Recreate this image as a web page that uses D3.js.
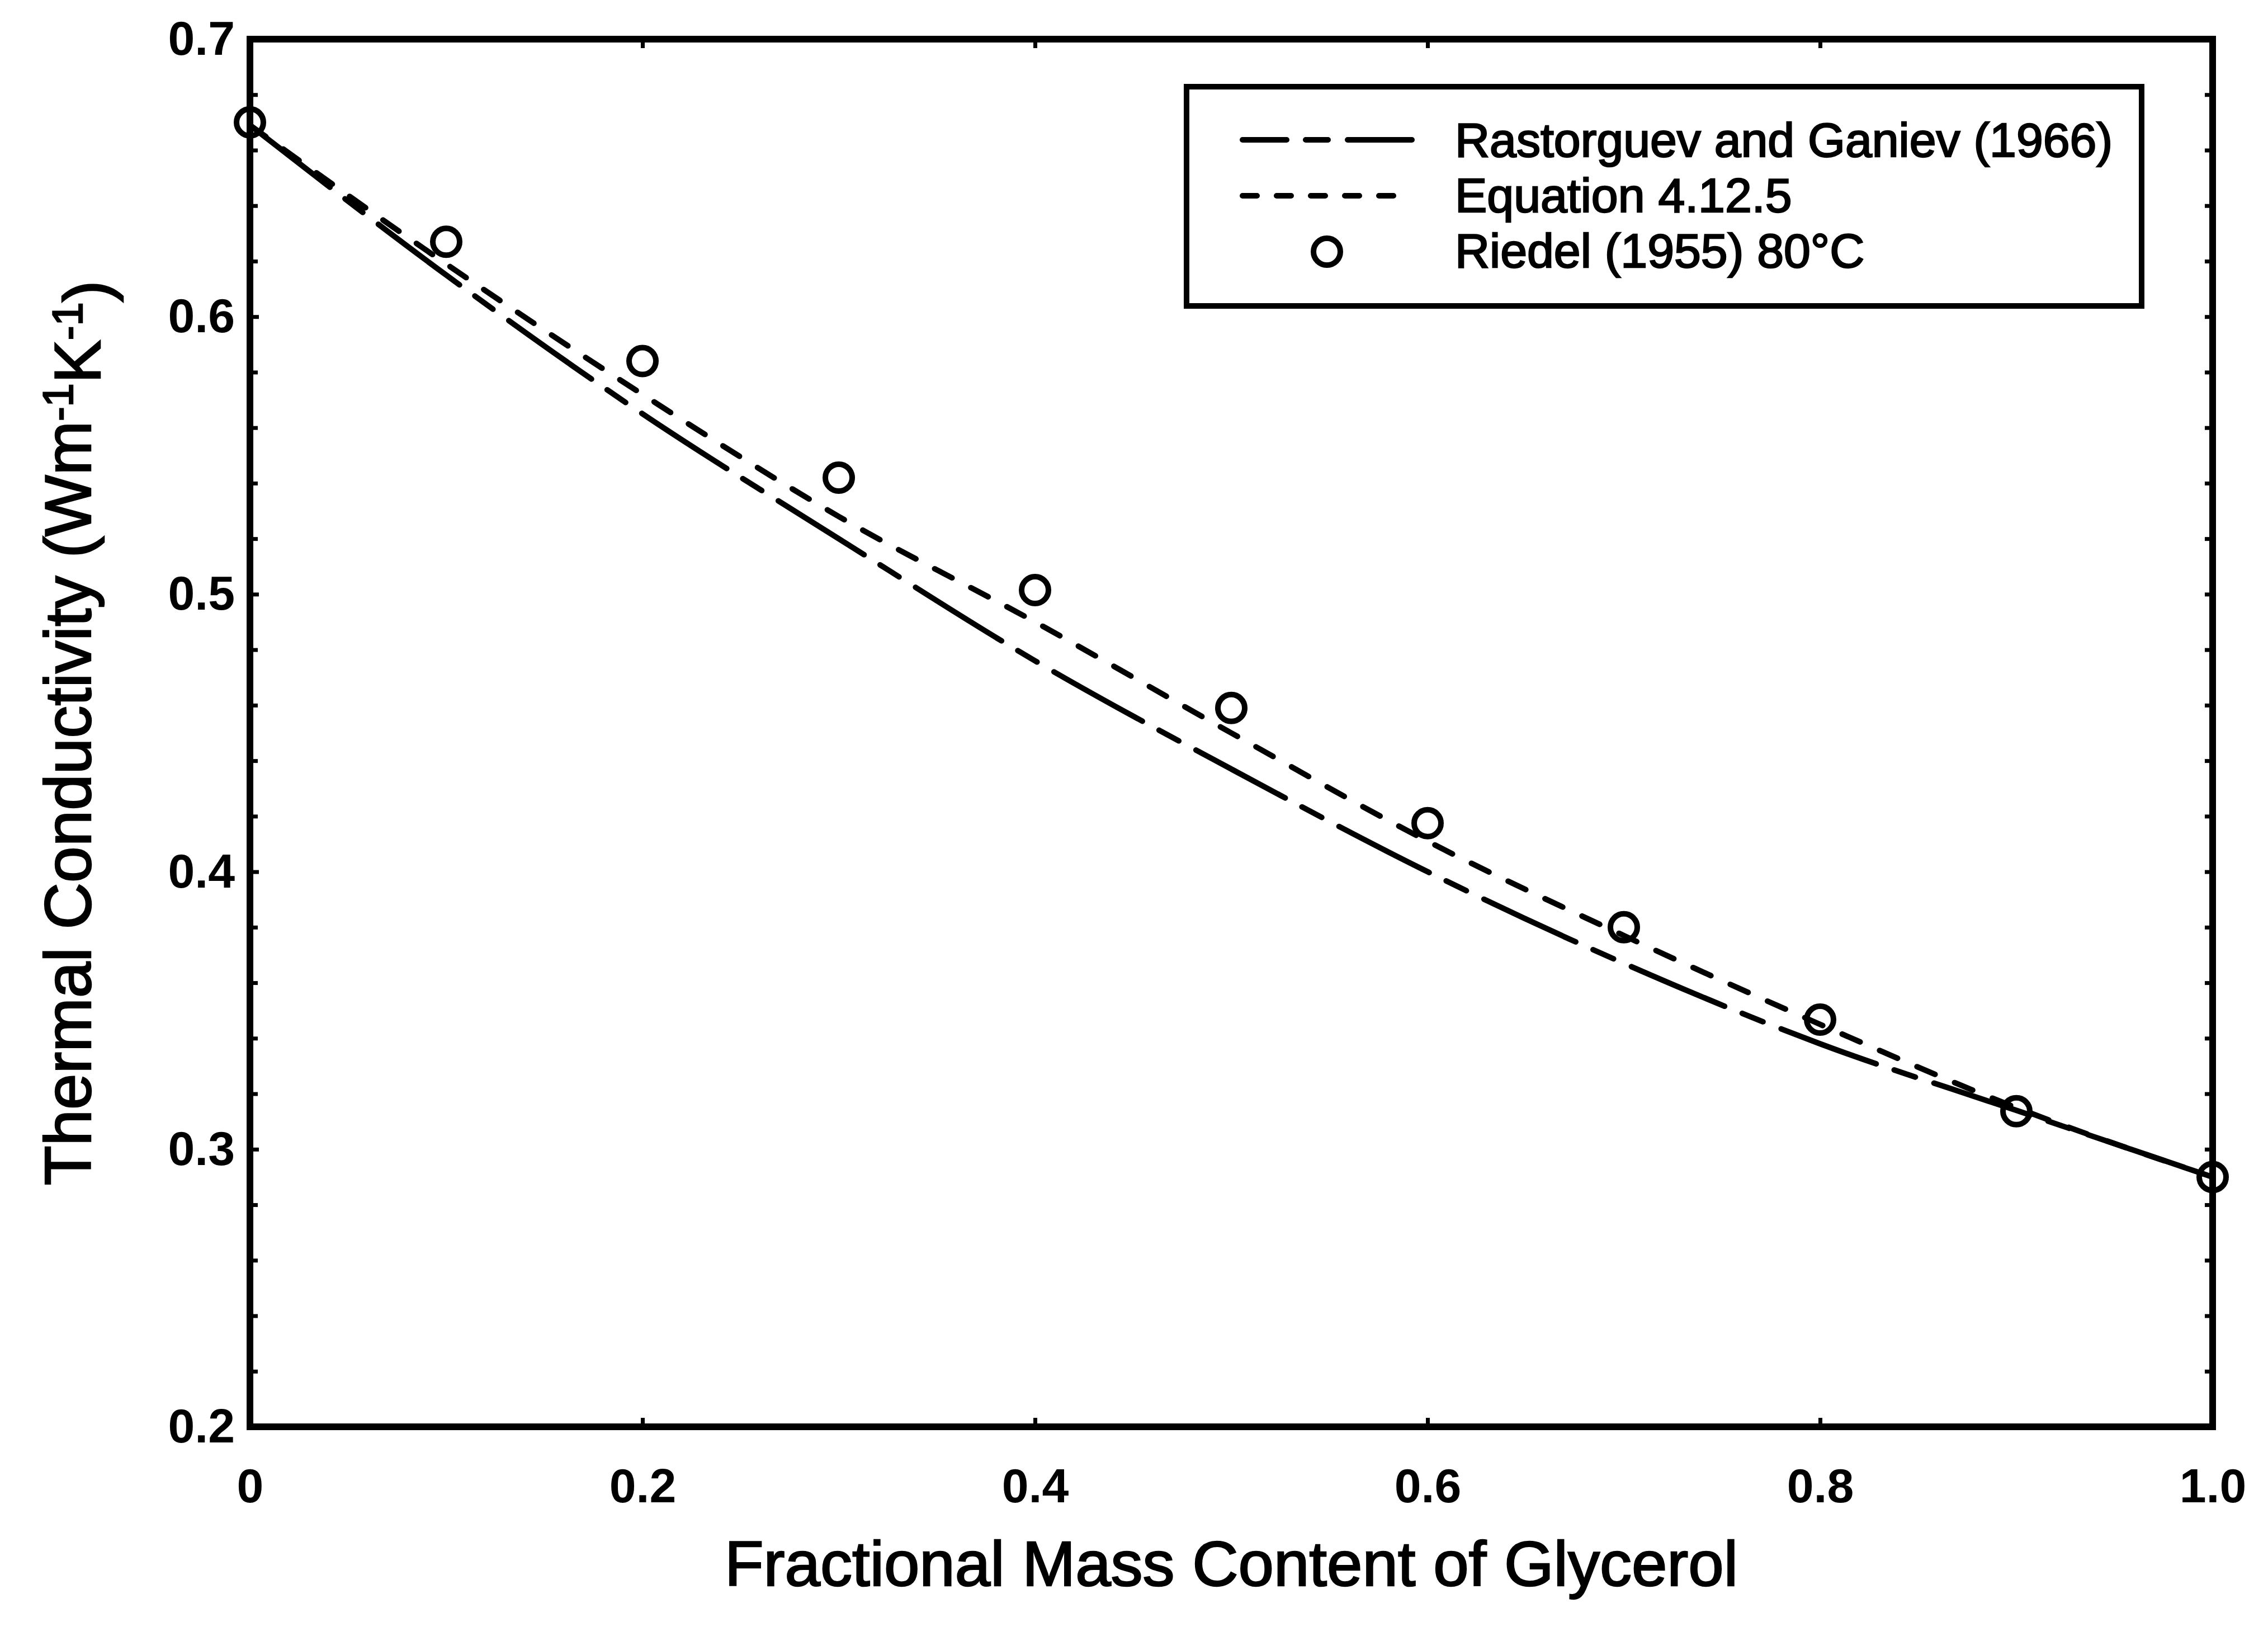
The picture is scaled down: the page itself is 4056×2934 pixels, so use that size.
<!DOCTYPE html>
<html>
<head>
<meta charset="utf-8">
<script src="https://cdn.jsdelivr.net/npm/d3@7"></script>
<style>
  body { margin: 0; background: #fff; }
  svg { display: block; }
  text { font-family: "Liberation Sans", Arial, Helvetica, sans-serif; fill: #000; }
  .heavy { stroke: #000; stroke-width: 2.5px; }
</style>
</head>
<body>
<figure id="chart" style="margin:0"></figure>
<script>
// values
const massFraction = [0, 0.1, 0.2, 0.3, 0.4, 0.5, 0.6, 0.7, 0.8, 0.9, 1.0];
const rastorguev = [0.669, 0.615, 0.565, 0.520, 0.476, 0.437, 0.400, 0.367, 0.338, 0.314, 0.290];
const equation4125 = [0.669, 0.619, 0.572, 0.528, 0.490, 0.450, 0.411, 0.377, 0.345, 0.315, 0.290];
const riedel = [0.670, 0.627, 0.584, 0.542, 0.5015, 0.459, 0.4175, 0.380, 0.3467, 0.3137, 0.290];

const xTicks = [0, 0.2, 0.4, 0.6, 0.8, 1.0];
const xTickLabels = ["0", "0.2", "0.4", "0.6", "0.8", "1.0"];
const yTicks = [0.2, 0.3, 0.4, 0.5, 0.6, 0.7];
const yTickLabels = ["0.2", "0.3", "0.4", "0.5", "0.6", "0.7"];
const yMinorTicks = [0.22, 0.24, 0.26, 0.28, 0.32, 0.34, 0.36, 0.38, 0.42, 0.44, 0.46, 0.48,
                     0.52, 0.54, 0.56, 0.58, 0.62, 0.64, 0.66, 0.68];

const seriesNames = ["Rastorguev and Ganiev (1966)", "Equation 4.12.5", "Riedel (1955) 80°C"];

const W = 4056, H = 2934;
const margin = { left: 447, top: 70, right: 99, bottom: 383 };
const width = W - margin.left - margin.right;
const height = H - margin.top - margin.bottom;

const rastDash = "181,34,40,35";
const eqDash = "35,38";

const svg = d3.select("figure#chart")
  .append("svg")
  .attr("width", W)
  .attr("height", H);

const g = svg.append("g")
  .attr("transform", "translate(" + margin.left + "," + margin.top + ")");

const x = d3.scaleLinear().domain([0, 1]).range([0, width]);
const y = d3.scaleLinear().domain([0.2, 0.7]).range([height, 0]);

// ticks (all pointing inward)
function styleAxis(sel) {
  sel.select(".domain").remove();
  sel.selectAll(".tick line").attr("stroke", "#000").attr("stroke-width", 7);
  sel.selectAll(".tick text")
    .style("font-size", "86px")
    .style("font-weight", "bold")
    .style("font-family", "'Liberation Sans', Arial, sans-serif");
}

g.append("g")
  .attr("transform", "translate(0," + height + ")")
  .call(d3.axisBottom(x).tickValues(xTicks).tickFormat((d, i) => xTickLabels[i])
    .tickSize(-16).tickSizeOuter(0).tickPadding(74))
  .call(styleAxis);

g.append("g")
  .call(d3.axisTop(x).tickValues(xTicks).tickFormat("").tickSize(-16).tickSizeOuter(0))
  .call(styleAxis);

g.append("g")
  .call(d3.axisLeft(y).tickValues(yTicks).tickFormat((d, i) => yTickLabels[i])
    .tickSize(-16).tickSizeOuter(0).tickPadding(27))
  .call(styleAxis);

g.append("g")
  .call(d3.axisLeft(y).tickValues(yMinorTicks).tickFormat("").tickSize(-14).tickSizeOuter(0))
  .call(styleAxis);

g.append("g")
  .attr("transform", "translate(" + width + ",0)")
  .call(d3.axisRight(y).tickValues(yTicks.concat(yMinorTicks)).tickFormat("").tickSize(-14).tickSizeOuter(0))
  .call(styleAxis);

// curves
const line = (vals) => d3.line()
  .x((d, i) => x(massFraction[i]))
  .y(d => y(d))
  .curve(d3.curveMonotoneX)(vals);

g.append("path")
  .attr("d", line(rastorguev))
  .attr("fill", "none")
  .attr("stroke", "#000")
  .attr("stroke-width", 10)
  .attr("stroke-linecap", "round")
  .attr("stroke-dasharray", rastDash);

g.append("path")
  .attr("d", line(equation4125))
  .attr("fill", "none")
  .attr("stroke", "#000")
  .attr("stroke-width", 10)
  .attr("stroke-linecap", "round")
  .attr("stroke-dasharray", eqDash);

g.selectAll(".pt")
  .data(riedel)
  .enter()
  .append("circle")
  .attr("cx", (d, i) => x(massFraction[i]))
  .attr("cy", d => y(d))
  .attr("r", 24)
  .attr("fill", "none")
  .attr("stroke", "#000")
  .attr("stroke-width", 10);

// frame
g.append("rect")
  .attr("x", 0).attr("y", 0)
  .attr("width", width).attr("height", height)
  .attr("fill", "none")
  .attr("stroke", "#000")
  .attr("stroke-width", 12);

// axis titles
svg.append("text")
  .attr("class", "heavy")
  .attr("x", margin.left + width / 2)
  .attr("y", 2835)
  .attr("text-anchor", "middle")
  .style("font-size", "114px")
  .text("Fractional Mass Content of Glycerol");

const yt = svg.append("text")
  .attr("class", "heavy")
  .attr("transform", "translate(162," + (margin.top + height / 2) + ") rotate(-90)")
  .attr("text-anchor", "middle")
  .style("font-size", "116px");
yt.append("tspan").text("Thermal Conductivity (Wm");
yt.append("tspan").attr("dy", "-0.42em").style("font-size", "76px").text("-1");
yt.append("tspan").attr("dy", "0.42em").text("K");
yt.append("tspan").attr("dy", "-0.42em").style("font-size", "76px").text("-1");
yt.append("tspan").attr("dy", "0.42em").text(")");

// legend
const legend = svg.append("g");
legend.append("rect")
  .attr("x", 2122).attr("y", 155)
  .attr("width", 1708).attr("height", 392)
  .attr("fill", "#fff")
  .attr("stroke", "#000")
  .attr("stroke-width", 10);

legend.append("line")
  .attr("x1", 2222).attr("x2", 2525).attr("y1", 250).attr("y2", 250)
  .attr("stroke", "#000").attr("stroke-width", 10)
  .attr("stroke-linecap", "round")
  .attr("stroke-dasharray", rastDash)
  .attr("stroke-dashoffset", 102);

legend.append("line")
  .attr("x1", 2222).attr("x2", 2515).attr("y1", 350).attr("y2", 350)
  .attr("stroke", "#000").attr("stroke-width", 10)
  .attr("stroke-linecap", "round")
  .attr("stroke-dasharray", "26,35");

legend.append("circle")
  .attr("cx", 2373).attr("cy", 450).attr("r", 24)
  .attr("fill", "none").attr("stroke", "#000").attr("stroke-width", 10);

legend.selectAll(".lt")
  .data(seriesNames)
  .enter()
  .append("text")
  .attr("class", "heavy")
  .attr("x", 2602)
  .attr("y", (d, i) => 280 + i * 99)
  .style("font-size", "86px")
  .text(d => d);
</script>
</body>
</html>
